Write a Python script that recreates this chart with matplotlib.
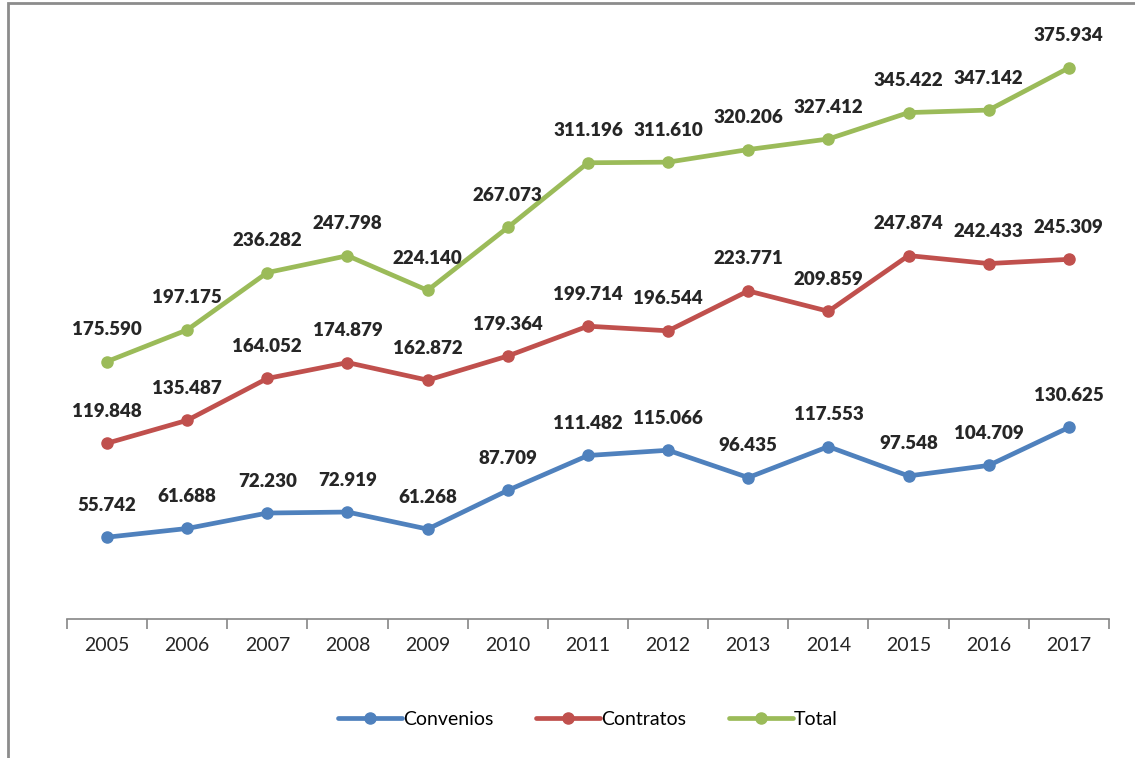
import matplotlib.pyplot as plt
from matplotlib.patches import Rectangle

years = ["2005", "2006", "2007", "2008", "2009", "2010", "2011",
         "2012", "2013", "2014", "2015", "2016", "2017"]
convenios = [55.742, 61.688, 72.230, 72.919, 61.268, 87.709, 111.482,
             115.066, 96.435, 117.553, 97.548, 104.709, 130.625]
contratos = [119.848, 135.487, 164.052, 174.879, 162.872, 179.364, 199.714,
             196.544, 223.771, 209.859, 247.874, 242.433, 245.309]
total = [175.590, 197.175, 236.282, 247.798, 224.140, 267.073, 311.196,
         311.610, 320.206, 327.412, 345.422, 347.142, 375.934]

plt.rcParams['font.family'] = ['Lato', 'DejaVu Sans']

fig = plt.figure(figsize=(11.35, 7.58), dpi=100)
ax = fig.add_axes([0.059, 0.1835, 0.918, 0.7735])

series = [("Convenios", convenios, "#4F81BD"),
          ("Contratos", contratos, "#C0504D"),
          ("Total", total, "#9BBB59")]
x = list(range(len(years)))
for name, vals, col in series:
    ax.plot(x, vals, color=col, lw=3.4, marker='o', ms=8, label=name,
            solid_capstyle='round')
    for xi, v in zip(x, vals):
        ax.annotate(f"{v:.3f}", (xi, v), xytext=(0, 23), textcoords='offset points',
                    ha='center', va='center', fontsize=13.5, fontweight='heavy',
                    color='#262626')

ax.set_xlim(-0.5, len(years) - 0.5)
ax.set_ylim(0, 400)
for s in ['top', 'right', 'left']:
    ax.spines[s].set_visible(False)
ax.spines['bottom'].set_color('#868686')
ax.spines['bottom'].set_linewidth(1.2)
ax.set_yticks([])
ax.set_xticks([i - 0.5 for i in range(len(years) + 1)], minor=False)
ax.set_xticklabels([])
ax.tick_params(axis='x', which='major', length=7, color='#868686', width=1.2)
ax.set_xticks(x, minor=True)
ax.set_xticklabels(years, minor=True)
ax.tick_params(axis='x', which='minor', length=0, pad=13, labelsize=14,
               labelcolor='#262626')

leg = ax.legend(loc='center', bbox_to_anchor=(0.5, -0.172), ncol=3, frameon=False,
                fontsize=14, handlelength=3.3, columnspacing=2.2, handletextpad=0.05)

fig.patches.append(Rectangle((8 / 1135, -0.05), 1.1, 1.05 - 3 / 758,
                             transform=fig.transFigure, fill=False,
                             edgecolor='#8C8C8C', lw=2))

fig.savefig("out.png", dpi=100)
